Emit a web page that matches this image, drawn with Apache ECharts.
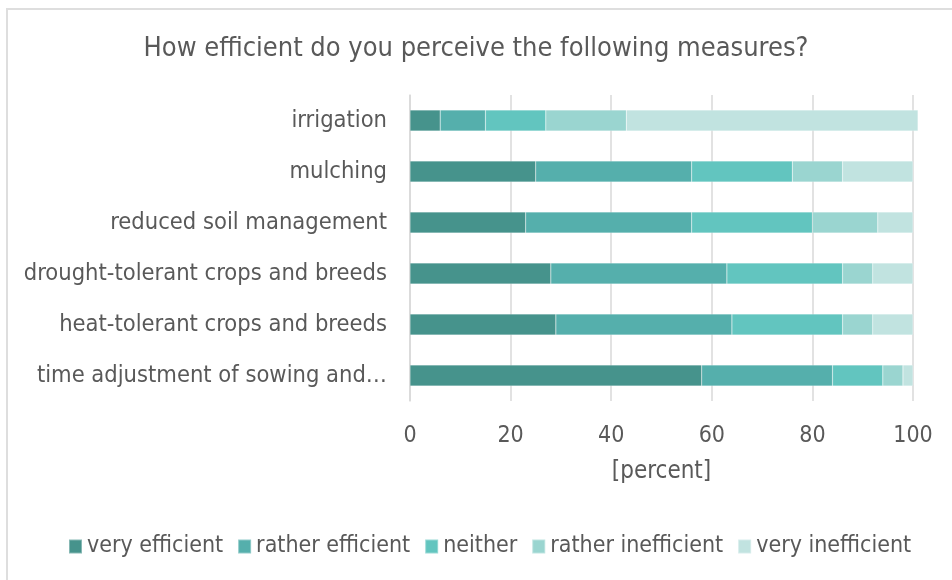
<!DOCTYPE html>
<html>
<head>
<meta charset="utf-8">
<script src="https://cdn.jsdelivr.net/npm/echarts@6/dist/echarts.min.js"></script>
<style>
  html, body { margin: 0; padding: 0; background: #fff; }
  #chart { width: 952px; height: 580px; }
  #frame { position: absolute; left: 6px; top: 8px; width: 960px; height: 600px; border: 2px solid #dedede; box-sizing: border-box; pointer-events: none; }
</style>
</head>
<body>
<div id="frame"></div>
<div id="chart"></div>
<script>
const categories = [
    'irrigation',
    'mulching',
    'reduced soil management',
    'drought-tolerant crops and breeds',
    'heat-tolerant crops and breeds',
    'time adjustment of sowing and\u2026'
];
const seriesNames = ['very efficient', 'rather efficient', 'neither', 'rather inefficient', 'very inefficient'];
const veryEfficient = [6, 25, 23, 28, 29, 58];
const ratherEfficient = [9, 31, 33, 35, 35, 26];
const neither = [12, 20, 24, 23, 22, 10];
const ratherInefficient = [16, 10, 13, 6, 6, 4];
const veryInefficient = [58, 14, 7, 8, 8, 2];
const xTicks = [0, 20, 40, 60, 80, 100];

const colors = ['#46938c', '#55afac', '#62c5bf', '#9ad5d0', '#c1e3e0'];
const fontFam = '"DejaVu Sans Condensed", "DejaVu Sans", sans-serif';
const textColor = '#595959';

const values = [veryEfficient, ratherEfficient, neither, ratherInefficient, veryInefficient];

// category axis inverted so first item is on top
const chart = echarts.init(document.getElementById('chart'));
chart.setOption({
    animation: false,
    color: colors,
    textStyle: {fontFamily: fontFam},
    title: {
        text: 'How efficient do you perceive the following measures?',
        left: 'center',
        top: 30,
        textStyle: {fontSize: 27, fontWeight: 'normal', color: textColor, fontFamily: fontFam}
    },
    legend: {
        bottom: 17,
        left: 63,
        itemWidth: 13,
        itemHeight: 14,
        itemGap: 14,
        icon: 'rect',
        textStyle: {fontSize: 23, color: textColor, fontFamily: fontFam},
        data: seriesNames
    },
    grid: {left: 410, right: 39, top: 95, height: 306},
    xAxis: {
        type: 'value',
        min: xTicks[0],
        max: xTicks[xTicks.length - 1],
        interval: 20,
        name: '[percent]',
        nameLocation: 'middle',
        nameGap: 59,
        nameTextStyle: {fontSize: 24, color: textColor, fontFamily: fontFam},
        axisLabel: {fontSize: 23, color: textColor, margin: 24, fontFamily: fontFam},
        splitLine: {lineStyle: {color: '#d9d9d9', width: 1.5}},
        axisLine: {show: false},
        axisTick: {show: false}
    },
    yAxis: {
        type: 'category',
        inverse: true,
        data: categories,
        axisLabel: {fontSize: 23.5, color: textColor, margin: 23, fontFamily: fontFam},
        axisLine: {show: true, lineStyle: {color: '#d9d9d9', width: 1.5}},
        axisTick: {show: false}
    },
    series: seriesNames.map((name, i) => ({
        name: name,
        type: 'bar',
        stack: 'total',
        barWidth: 21,
        clip: false,
        data: values[i],
        itemStyle: {borderColor: 'rgba(255,255,255,0.35)', borderWidth: 0.5}
    }))
});
</script>
</body>
</html>
